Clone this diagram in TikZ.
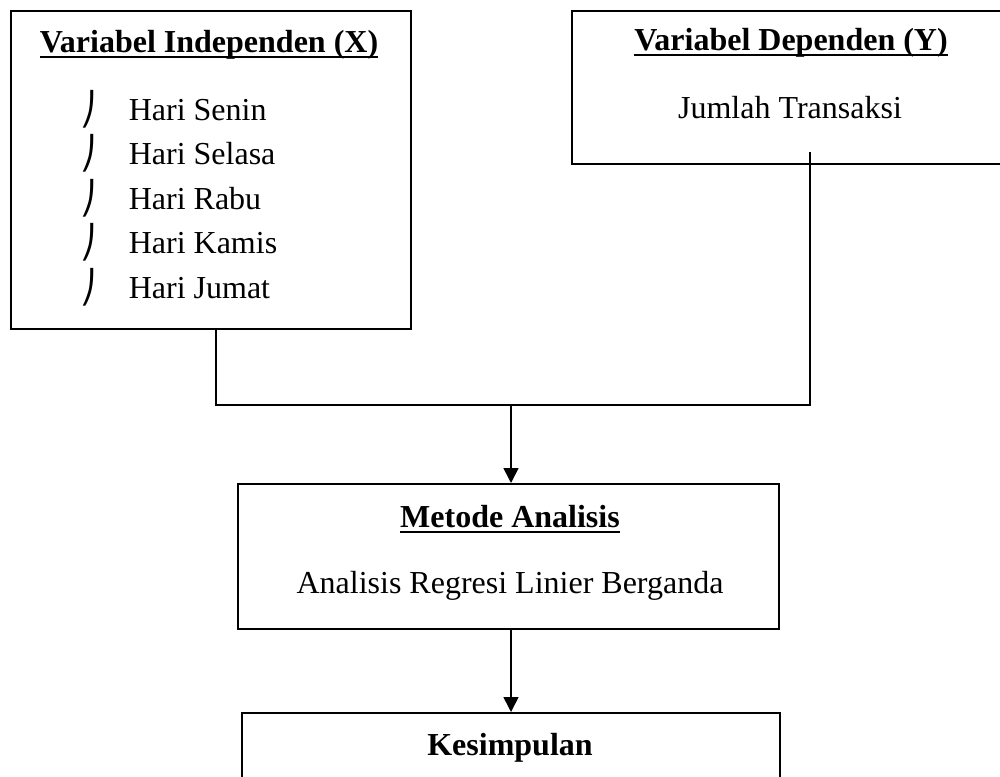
\documentclass[tikz,border=0pt]{standalone}
\usepackage{fontspec}
\setmainfont{Liberation Serif}
\newfontfamily\hookfont{DejaVu Sans}
\usetikzlibrary{arrows.meta}
\newcommand{\garisbawah}[1]{\setbox0=\hbox{#1}\rlap{\rule[-3pt]{\wd0}{1pt}}\box0}

\begin{document}
\begin{tikzpicture}[x=0.5pt,y=-0.5pt,line width=0.8pt,>={Triangle[width=7.5pt,length=7.5pt]},
  font=\fontsize{16}{20}\selectfont]
      \tikzstyle{box}=[draw,anchor=north west,inner sep=0pt]
      \tikzstyle{txt}=[anchor=base,inner sep=0pt]
      \tikzstyle{item}=[anchor=base west,inner sep=0pt]
      \tikzstyle{hook}=[anchor=base,inner sep=0pt,font=\fontsize{16}{20}\hookfont]
      \useasboundingbox (0,0) rectangle (1000,776);
      \clip (0,0) rectangle (1000,776);

      % kotak
      \node[box,minimum width=200pt,minimum height=159pt] (xbox) at (10,10) {};
      \node[box,minimum width=220pt,minimum height=76.5pt] (ybox) at (571,10) {};
      \node[box,minimum width=270.5pt,minimum height=72.5pt] (metode) at (237,483) {};
      \node[box,minimum width=269pt,minimum height=60pt] (kesim) at (241,712) {};

      % teks
      \node[txt] (xhead) at (209,52) {\textbf{\garisbawah{Variabel Independen (X)}}};
      \node[hook] (b1) at (88,120) {⎠};
      \node[hook] (b2) at (88,164.5) {⎠};
      \node[hook] (b3) at (88,209) {⎠};
      \node[hook] (b4) at (88,253.5) {⎠};
      \node[hook] (b5) at (88,298) {⎠};
      \node[item] (h1) at (128,120) {Hari Senin};
      \node[item] (h2) at (128,164.5) {Hari Selasa};
      \node[item] (h3) at (128,209) {Hari Rabu};
      \node[item] (h4) at (128,253.5) {Hari Kamis};
      \node[item] (h5) at (128,298) {Hari Jumat};
      \node[txt] (yhead) at (791,50) {\textbf{\garisbawah{Variabel Dependen (Y)}}};
      \node[txt] (ytext) at (790,118) {Jumlah Transaksi};
      \node[txt] (mhead) at (510,527) {\textbf{\garisbawah{Metode Analisis}}};
      \node[txt] (mtext) at (510,593) {Analisis Regresi Linier Berganda};
      \node[txt] (khead) at (510,755) {\textbf{Kesimpulan}};

      % garis
      \coordinate (join) at (511,405);
      \coordinate (ystub) at (810,152);
      \draw ([xshift=2.5pt]xbox.south) |- (join) -| (ystub);
      \path (join) edge[->] (join |- metode.north);
      \path (join |- metode.south) edge[->] (join |- kesim.north);
\end{tikzpicture}
\end{document}
